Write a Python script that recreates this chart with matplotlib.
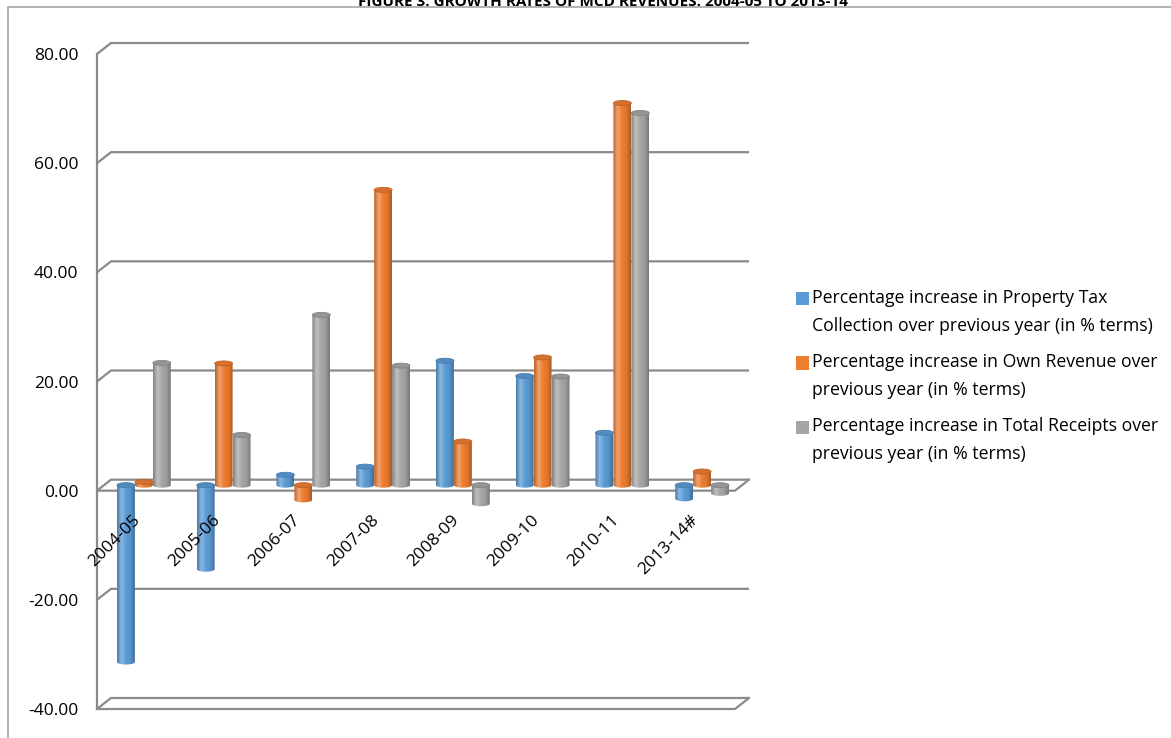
import numpy as np
import matplotlib
matplotlib.use('Agg')
import matplotlib.pyplot as plt
from matplotlib.colors import LinearSegmentedColormap, to_rgb
from matplotlib.patches import Ellipse, Rectangle
from matplotlib.path import Path
from matplotlib.transforms import offset_copy
from matplotlib.lines import Line2D

plt.rcParams['font.family'] = ['Open Sans', 'DejaVu Sans']

title = "FIGURE 3: GROWTH RATES OF MCD REVENUES: 2004-05 TO 2013-14"

years = ['2004-05', '2005-06', '2006-07', '2007-08', '2008-09',
         '2009-10', '2010-11', '2013-14#']

property_tax = [-32.4, -15.4, 1.9, 3.4, 22.8, 20.0, 9.6, -2.5]
own_revenue = [0.6, 22.3, -2.7, 54.1, 8.0, 23.4, 70.0, 2.5]
total_receipts = [22.4, 9.2, 31.2, 21.9, -3.4, 19.9, 68.2, -1.5]

series_labels = [
    'Percentage increase in Property Tax\nCollection over previous year (in % terms)',
    'Percentage increase in Own Revenue over\nprevious year (in % terms)',
    'Percentage increase in Total Receipts over\nprevious year (in % terms)',
]
series_colors = ['#5b9bd5', '#ed7d31', '#a5a5a5']

y_ticks = [-40, -20, 0, 20, 40, 60, 80]

W, H, DPI = 1171, 738, 100
GRID = '#8a8a8a'

fig = plt.figure(figsize=(W / DPI, H / DPI), dpi=DPI)

# front plane of the box, in pixels
left, right, top, bottom = 97, 735, 54, 709
ax = fig.add_axes([left / W, 1 - bottom / H, (right - left) / W,
                   (bottom - top) / H])
ncat = len(years)
ymin, ymax = -40, 80

# oblique depth of the box, converted to data units
px_x = (right - left) / ncat
px_y = (bottom - top) / (ymax - ymin)
DX = 14 / px_x
DY = 11 / px_y


def cylinder_cmap(color):
    c = np.array(to_rgb(color))
    light = c + (1 - c) * 0.3
    return LinearSegmentedColormap.from_list(
        'cyl', [c * 0.78, light, c, c * 0.95, c * 0.72])


# back wall gridlines with their side-wall segment
for v in y_ticks:
    ax.plot([-0.5, -0.5 + DX, ncat - 0.5 + DX], [v, v + DY, v + DY],
            color=GRID, lw=1.6, clip_on=False, zorder=1,
            solid_capstyle='butt')

# front edges of the floor and the axis box
for v in (0, ymin):
    ax.plot([-0.5, ncat - 0.5, ncat - 0.5 + DX], [v, v, v + DY],
            color=GRID, lw=1.6, clip_on=False, zorder=1)
ax.plot([-0.5, -0.5], [ymin, ymax], color=GRID, lw=1.6, clip_on=False,
        zorder=1)

# cylinders, sitting half way back in the box
bar_w = 0.225
x = np.arange(ncat) + DX / 2
cap_h = 5 / px_y
grad = np.linspace(0, 1, 64).reshape(1, -1)
series = [property_tax, own_revenue, total_receipts]
for k, (vals, color) in enumerate(zip(series, series_colors)):
    bars = ax.bar(x + (k - 1) * bar_w, vals, width=bar_w, bottom=DY / 2,
                  color='none', edgecolor='none', zorder=3 + k)
    cmap = cylinder_cmap(color)
    c = np.array(to_rgb(color))
    for j, rect in enumerate(bars):
        x0 = rect.get_x()
        w = rect.get_width()
        y0 = rect.get_y()
        y1 = y0 + rect.get_height()
        lo, hi = min(y0, y1), max(y0, y1)
        xc = x0 + w / 2
        zo = 3 + k + j * 0.01
        # body plus the rounded lower rim
        th = np.linspace(np.pi, 2 * np.pi, 30)
        verts = [(x0, hi), (x0, lo)]
        verts += list(zip(xc + w / 2 * np.cos(th), lo + cap_h / 2 * np.sin(th)))
        verts += [(x0 + w, lo), (x0 + w, hi), (x0, hi)]
        clip = Path(verts, closed=True)
        im = ax.imshow(grad, cmap=cmap, aspect='auto',
                       extent=[x0, x0 + w, lo - cap_h, hi],
                       interpolation='bicubic', zorder=zo)
        im.set_clip_path(clip, transform=ax.transData)
        # flat top face
        ax.add_patch(Ellipse((xc, hi), w, cap_h, facecolor=c * 0.9,
                             edgecolor=c * 0.8, lw=0.6, zorder=zo + 0.005))

ax.set_xlim(-0.5, ncat - 0.5)
ax.set_ylim(ymin, ymax)

# axis labels
ax.set_yticks(y_ticks)
ax.set_yticklabels(['{:.2f}'.format(v) for v in y_ticks])
ax.set_xticks([])
ax.tick_params(axis='y', length=0, pad=13.5, labelsize=12.5)
for s in ax.spines.values():
    s.set_visible(False)
ax.patch.set_visible(False)

lab_tr = offset_copy(ax.transData, fig, x=1, y=-27, units='dots')
for i, yr in enumerate(years):
    ax.text(i, 0, yr, rotation=45, rotation_mode='anchor', ha='right',
            va='center', fontsize=12.5, transform=lab_tr, zorder=20)

# legend
for k, (lab, color) in enumerate(zip(series_labels, series_colors)):
    yc = 299 + 64 * k
    fig.patches.append(Rectangle((796 / W, 1 - (yc + 6.5) / H), 13 / W,
                                 13 / H, transform=fig.transFigure,
                                 facecolor=color, edgecolor='none'))
    fig.text(812 / W, 1 - (yc + 13) / H, lab, ha='left', va='center',
             fontsize=12.7, linespacing=1.75)

# chart area border and the clipped title above it
fig.add_artist(Line2D([7.5 / W, 7.5 / W, 1.0], [0, 1 - 6.5 / H, 1 - 6.5 / H],
                      transform=fig.transFigure, color='#a6a6a6', lw=1.2))
fig.text(603 / W, 1 - 5.5 / H, title, ha='center', va='baseline',
         fontsize=11, fontweight='bold')

fig.savefig('out.png', dpi=DPI)
